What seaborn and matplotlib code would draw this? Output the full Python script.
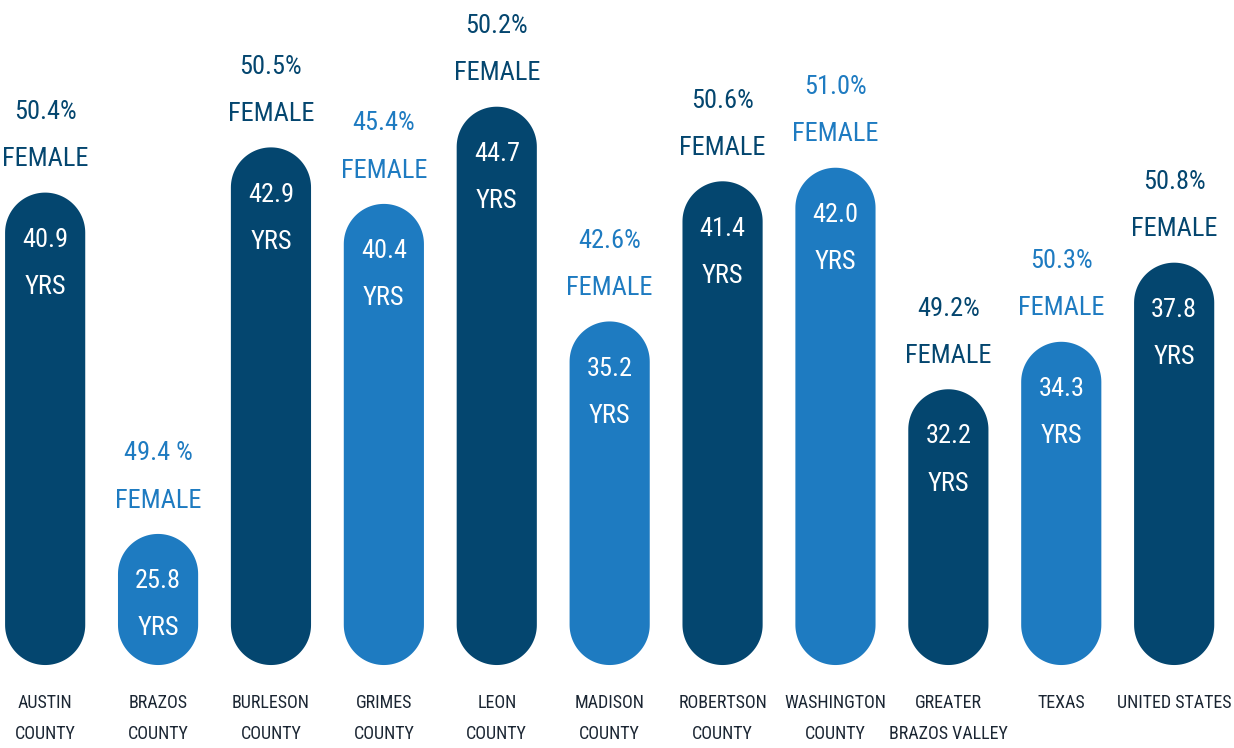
import numpy as np
import pandas as pd
import seaborn as sns
import matplotlib.pyplot as plt
from matplotlib.patches import Polygon


categories = [
    "AUSTIN\nCOUNTY", "BRAZOS\nCOUNTY", "BURLESON\nCOUNTY", "GRIMES\nCOUNTY",
    "LEON\nCOUNTY", "MADISON\nCOUNTY", "ROBERTSON\nCOUNTY", "WASHINGTON\nCOUNTY",
    "GREATER\nBRAZOS VALLEY", "TEXAS", "UNITED STATES",
]
median_age = [40.9, 25.8, 42.9, 40.4, 44.7, 35.2, 41.4, 42.0, 32.2, 34.3, 37.8]
pct_female = ["50.4%", "49.4 %", "50.5%", "45.4%", "50.2%", "42.6%",
              "50.6%", "51.0%", "49.2%", "50.3%", "50.8%"]
shade = ["dark", "light", "dark", "light", "dark", "light",
         "dark", "light", "dark", "light", "dark"]

BASE = 20.0
DARK = "#04466f"
LIGHT = "#1e7bc1"
LABEL_COLOR = "#1b2633"

sns.set_theme(style="white")
plt.rcParams["font.family"] = ["Liberation Sans Narrow", "Roboto Condensed", "DejaVu Sans"]

df = pd.DataFrame({"place": categories, "age": median_age, "shade": shade})

fig = plt.figure(figsize=(12.34, 7.48), dpi=100)
ax = fig.add_axes([0, 0, 1, 1])
sns.barplot(data=df, x="place", y="age", hue="shade", dodge=False,
            palette={"dark": DARK, "light": LIGHT}, width=0.71,
            saturation=1, legend=False, ax=ax)

ax.set_xlim(-0.40, 10.53)
ax.set_ylim(16.33, 49.42)
ax.axis("off")

# y-units per x-unit so the ends are true half circles on screen
fig.canvas.draw()
x_per_px = (ax.get_xlim()[1] - ax.get_xlim()[0]) / ax.bbox.width
y_per_px = (ax.get_ylim()[1] - ax.get_ylim()[0]) / ax.bbox.height
aspect = y_per_px / x_per_px


def pill(x, w, y_bot, y_top):
    r = w / 2
    ry = r * aspect
    cx = x + r
    t_top = np.linspace(0, np.pi, 60)
    t_bot = np.linspace(np.pi, 2 * np.pi, 60)
    top = np.column_stack([cx + r * np.cos(t_top), y_top - ry + ry * np.sin(t_top)])
    bot = np.column_stack([cx + r * np.cos(t_bot), y_bot + ry + ry * np.sin(t_bot)])
    return np.vstack([top, bot])


# swap rectangles for pill shapes starting at BASE
for p in list(ax.patches):
    x, w, h = p.get_x(), p.get_width(), p.get_height()
    fc = p.get_facecolor()
    p.remove()
    if h <= 0:
        continue
    ax.add_patch(Polygon(pill(x, w, BASE, h), closed=True, facecolor=fc, edgecolor="none"))

for i, (age, pct, s) in enumerate(zip(median_age, pct_female, shade)):
    col = DARK if s == "dark" else LIGHT
    ax.annotate(f"{age:.1f}", (i, age), xytext=(0, -34), textcoords="offset points",
                ha="center", va="center", color="white", fontsize=19)
    ax.annotate("YRS", (i, age), xytext=(0, -68), textcoords="offset points",
                ha="center", va="center", color="white", fontsize=19)
    ax.annotate("FEMALE", (i, age), xytext=(0, 24), textcoords="offset points",
                ha="center", va="center", color=col, fontsize=19)
    ax.annotate(pct, (i, age), xytext=(0, 58), textcoords="offset points",
                ha="center", va="center", color=col, fontsize=19)

for i, lab in enumerate(categories):
    for j, line in enumerate(lab.split("\n")):
        ax.annotate(line, (i, BASE), xytext=(0, -27 - 23 * j), textcoords="offset points",
                    ha="center", va="center", color=LABEL_COLOR, fontsize=13)

fig.savefig("out.png", dpi=100, facecolor="white")
